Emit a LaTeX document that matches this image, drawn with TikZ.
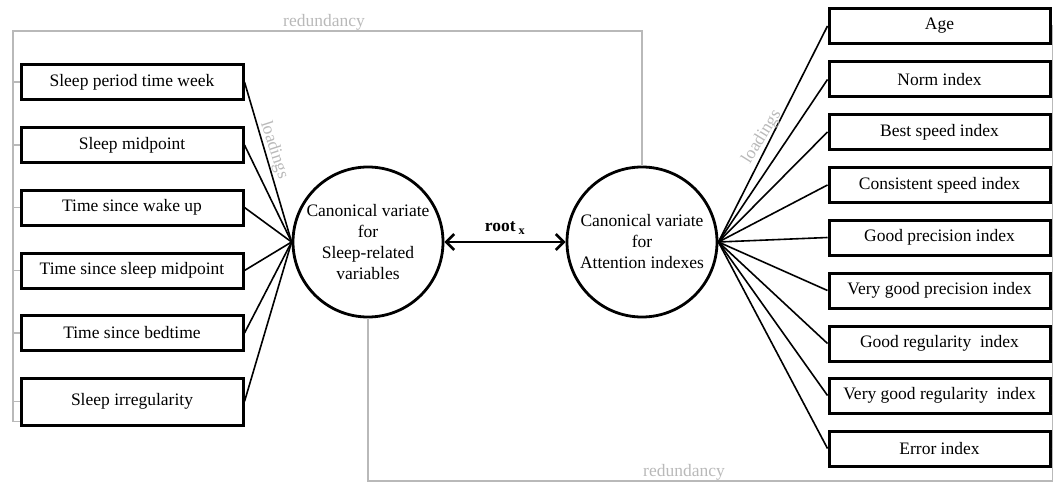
\documentclass[tikz,border=0pt]{standalone}
\usepackage{fontspec}
\setmainfont{Liberation Serif}
\usetikzlibrary{arrows.meta}
\definecolor{lightg}{RGB}{185,185,185}
\begin{document}
\begin{tikzpicture}[x=1pt,y=-1pt,
  every node/.style={font=\fontsize{17.5}{21}\selectfont},
  varbox/.style={draw, line width=3pt, minimum height=35pt, inner sep=0pt, align=center},
  lbox/.style={varbox, minimum width=222pt},
  rbox/.style={varbox, minimum width=221pt},
  cvar/.style={draw, circle, line width=2.8pt, minimum size=150pt, inner sep=0pt, align=center},
  load/.style={line width=1.6pt},
  grayline/.style={draw=lightg, line width=1.3pt},
  graytext/.style={text=lightg, inner sep=1pt}
]
\useasboundingbox (0,0) rectangle (1059,484);

% left boxes
\node[lbox] (l1) at (132,82) {Sleep period time week};
\node[lbox] (l2) at (132,145) {Sleep midpoint};
\node[lbox] (l3) at (132,207.5) {Time since wake up};
\node[lbox] (l4) at (132,270.5) {Time since sleep midpoint};
\node[lbox] (l5) at (132,333) {Time since bedtime};
\node[lbox, minimum height=47pt] (l6) at (132,401.5) {Sleep irregularity};

% right boxes
\node[rbox] (r1) at (939.5,26) {Age};
\node[rbox] (r2) at (939.5,79.5) {Norm index};
\node[rbox] (r3) at (939.5,132) {Best speed index};
\node[rbox] (r4) at (939.5,185) {Consistent speed index};
\node[rbox] (r5) at (939.5,237.5) {Good precision index};
\node[rbox] (r6) at (939.5,290.5) {Very good precision index};
\node[rbox] (r7) at (939.5,343.5) {Good regularity~ index};
\node[rbox] (r8) at (939.5,395.5) {Very good regularity~ index};
\node[rbox] (r9) at (939.5,448.5) {Error index};

% canonical variates
\node[cvar] (c1) at (368,242) {Canonical variate\\for\\Sleep-related\\variables};
\node[cvar] (c2) at (642,242) {Canonical variate\\for\\Attention indexes};

% loadings
\foreach \b in {l1,l2,l3,l4,l5,l6} \draw[load] (\b.east) -- (c1.west);
\foreach \b in {r1,r2,r3,r4,r5,r6,r7,r8,r9} \draw[load] (c2.east) -- (\b.west);

% root arrow
\draw[line width=2.6pt, {Straight Barb[length=8pt,width=16pt]}-{Straight Barb[length=8pt,width=16pt]}] (c1.east) -- (c2.west)
  node[midway, above=3pt, font=\fontsize{17.5}{21}\selectfont\bfseries] (root) {root\,\textsubscript{x}};

% redundancy brackets
\coordinate (tl) at (13,31);
\draw[grayline] (l6.south west) ++(0,-5) -| (tl) -| (c2.north);
\foreach \b in {l1,l2,l3,l4,l5,l6} \draw[grayline] (\b.west) -- ++(-8,0);
\coordinate (br) at (1052.5,481);
\draw[grayline] (c1.south) |- (br) |- (r1.east);
\foreach \b in {r2,r3,r4,r5,r6,r7,r8,r9} \draw[grayline] (\b.east) -- (br |- \b.east);

\node[graytext, anchor=south] (red1) at (324,31) {redundancy};
\node[graytext, anchor=south] (red2) at (684,481) {redundancy};
\node[graytext, rotate=-72] (ld1) at (274,150) {loadings};
\node[graytext, rotate=58] (ld2) at (762,137) {loadings};
\end{tikzpicture}
\end{document}
